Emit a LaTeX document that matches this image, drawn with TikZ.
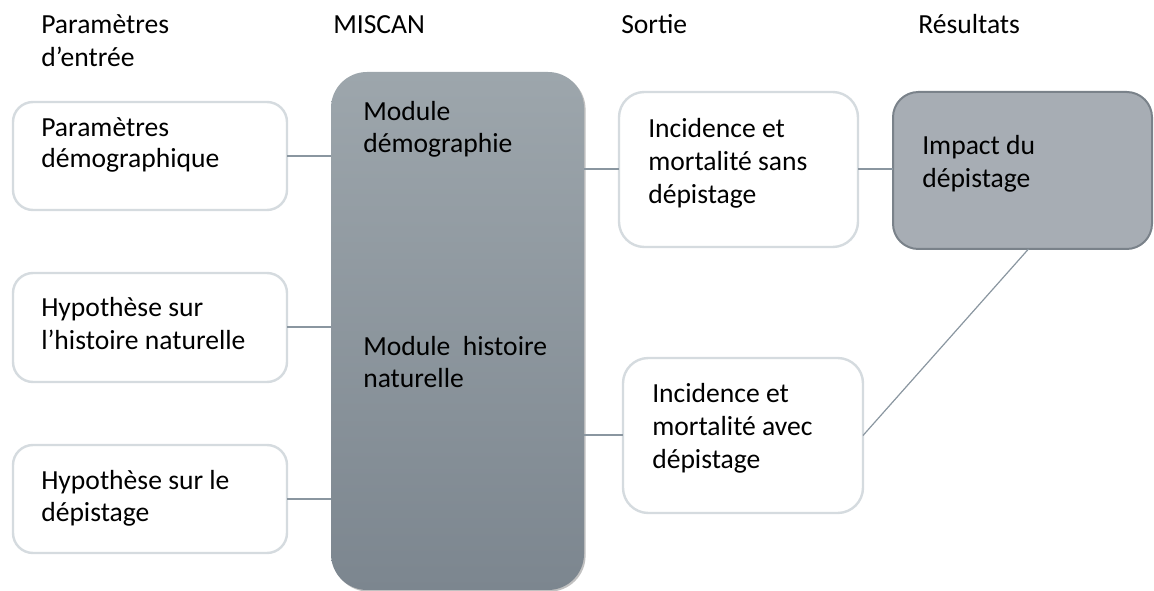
\documentclass[tikz,border=0pt]{standalone}
\usepackage{fontspec}
\setmainfont{Carlito}
\usetikzlibrary{shadows}
\definecolor{bigtop}{RGB}{157,166,172}
\definecolor{bigbot}{RGB}{124,134,143}
\definecolor{impfill}{RGB}{167,173,180}
\definecolor{impdraw}{RGB}{122,130,138}
\definecolor{wbdraw}{RGB}{213,219,223}
\definecolor{conn}{RGB}{138,150,160}
\tikzset{
  wbox/.style={draw=wbdraw, line width=1.8pt, fill=white, rounded corners=15pt, inner sep=0pt, outer sep=0pt},
  bigbox/.style={top color=bigtop, bottom color=bigbot, draw=none, rounded corners=27pt, inner sep=0pt, outer sep=0pt,
    drop shadow={shadow xshift=1.2pt, shadow yshift=-1.2pt, opacity=0.35, fill=black!70}},
  impbox/.style={draw=impdraw, line width=1.5pt, fill=impfill, rounded corners=19pt, inner sep=0pt, outer sep=0pt},
  txt/.style={anchor=base west, inner sep=0pt, font=\fontsize{20.7pt}{24.75pt}\selectfont},
  link/.style={draw=conn, line width=1.5pt},
  thinlink/.style={draw=conn, line width=0.9pt}
}
\begin{document}
\begin{tikzpicture}[x=0.75pt, y=-0.75pt]
\useasboundingbox (0,0) rectangle (1154,591);
% boxes
\node[wbox, minimum width=205.5pt, minimum height=81pt] (b1) at (150,156) {};
\node[wbox, minimum width=205.5pt, minimum height=81.75pt] (b2) at (150,327.5) {};
\node[wbox, minimum width=205.5pt, minimum height=81pt] (b3) at (150,499) {};
\node[bigbox, minimum width=189.75pt, minimum height=388.5pt] (big) at (457.5,331) {};
\node[wbox, rounded corners=19pt, minimum width=179.25pt, minimum height=116.25pt] (o1) at (738.5,169.5) {};
\node[wbox, rounded corners=19pt, minimum width=180pt, minimum height=116.25pt] (o2) at (743,435.5) {};
\node[impbox, minimum width=194.25pt, minimum height=117.75pt] (imp) at (1022.5,170.5) {};
% connectors
\draw[link] (b1.east) -- (b1.east -| big.west);
\draw[link] (b2.east) -- (b2.east -| big.west);
\draw[link] (b3.east) -- (b3.east -| big.west);
\draw[link] (o1.west -| big.east) -- (o1.west);
\draw[link] (o2.west -| big.east) -- (o2.west);
\draw[link] (o1.east) -- (o1.east -| imp.west);
\draw[thinlink] ([xshift=4.5pt]imp.south) -- (o2.east);
% headers
\node[txt] (h1a) at (41,34) {Paramètres};
\node[txt] (h1b) at (41,67) {d’entrée};
\node[txt] (h2) at (333,34) {MISCAN};
\node[txt] (h3) at (621,34) {Sortie};
\node[txt] (h4) at (918,34) {Résultats};
% left box texts
\node[txt] (t1a) at (41,137) {Paramètres};
\node[txt] (t1b) at (41,168) {démographique};
\node[txt] (t2a) at (41,317) {Hypothèse sur};
\node[txt] (t2b) at (41,350) {l’histoire naturelle};
\node[txt] (t3a) at (41,490) {Hypothèse sur le};
\node[txt] (t3b) at (41,522) {dépistage};
% big box texts
\node[txt] (m1a) at (363,121) {Module};
\node[txt] (m1b) at (363,153) {démographie};
\node[txt] (m2a) at (363,356) {Module~~histoire};
\node[txt] (m2b) at (363,388) {naturelle};
% output texts
\node[txt] (o1a) at (648,138) {Incidence et};
\node[txt] (o1b) at (648,171) {mortalité sans};
\node[txt] (o1c) at (648,204) {dépistage};
\node[txt] (o2a) at (652,403) {Incidence et};
\node[txt] (o2b) at (652,436) {mortalité avec};
\node[txt] (o2c) at (652,469) {dépistage};
% impact texts
\node[txt] (i1a) at (922,155) {Impact du};
\node[txt] (i1b) at (922,188) {dépistage};
\end{tikzpicture}
\end{document}
